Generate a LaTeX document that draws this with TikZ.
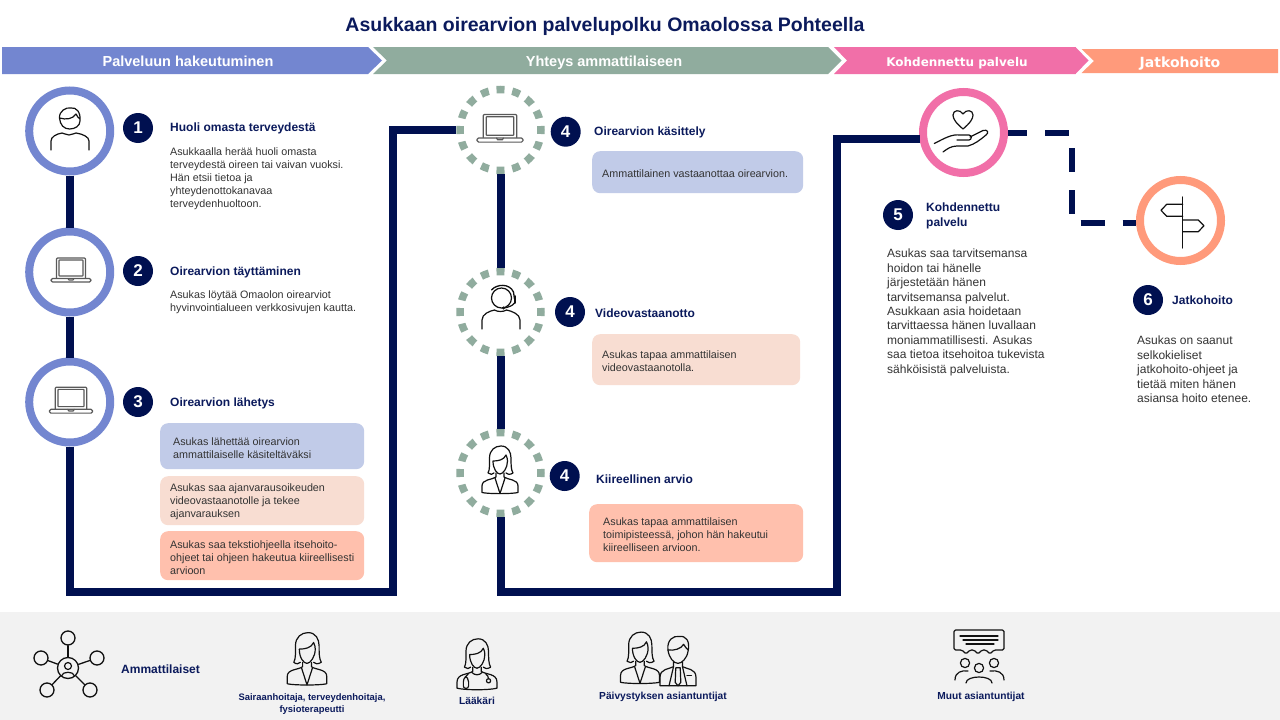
\documentclass[tikz,border=0pt]{standalone}
\usepackage{fontspec}
\setmainfont{Liberation Sans}
\newfontfamily\hdrfont{DejaVu Sans}
\definecolor{navy}{HTML}{001050}
\definecolor{titlenavy}{HTML}{0B1A5C}
\definecolor{hblue}{HTML}{7386D0}
\definecolor{hgreen}{HTML}{90AC9E}
\definecolor{hpink}{HTML}{F16FA8}
\definecolor{horange}{HTML}{FF9A7B}
\definecolor{bblue}{HTML}{C1CBE8}
\definecolor{bpeach}{HTML}{F8DDD2}
\definecolor{bsalmon}{HTML}{FFC0AD}
\definecolor{band}{HTML}{F2F2F2}
\definecolor{txt}{HTML}{333333}
\definecolor{iconink}{HTML}{111111}
\tikzset{
  ring/.style={circle,draw=#1,line width=8pt,fill=white,minimum size=81pt,inner sep=0pt},
  dashring/.style={circle,draw=hgreen,line width=7.5pt,fill=white,minimum size=81pt,inner sep=0pt,
     dash pattern=on 8pt off 7.9pt,dash phase=4pt},
  numdot/.style={circle,fill=navy,text=white,minimum size=30pt,inner sep=0pt,font=\fontsize{17}{17}\selectfont\bfseries},
  flow/.style={draw=navy,line width=8pt,line join=miter},
  flowdash/.style={draw=navy,line width=6pt,dash pattern=on 24pt off 18pt,dash phase=5pt},
  headlabel/.style={anchor=west,text=titlenavy,inner sep=0pt,align=left,font=\fontsize{12}{15.5}\selectfont\bfseries},
  bodytext/.style={anchor=north west,text=txt,inner sep=0pt,align=left,font=\fontsize{10.75}{13}\selectfont},
  bodylarge/.style={anchor=north west,text=txt,inner sep=0pt,align=left,font=\fontsize{12}{14.4}\selectfont},
  stepbox/.style={anchor=north west,rounded corners=8pt,fill=#1,text=txt,inner ysep=0pt,inner xsep=0pt,
     align=left,font=\fontsize{10.75}{13}\selectfont},
  hdrlabel/.style={anchor=base,text=white,inner sep=0pt,font=\fontsize{14.5}{14.5}\selectfont\bfseries},
  botlabel/.style={text=titlenavy,inner sep=0pt,align=center,font=\fontsize{9.4}{11.5}\selectfont\bfseries},
  botlabelwide/.style={text=titlenavy,inner sep=0pt,align=center,font=\fontsize{10.2}{12}\selectfont\bfseries},
  inkline/.style={draw=iconink,line width=1.2pt,line join=round,line cap=round},
  grayline/.style={draw=black!65,line width=1.2pt,line join=round,line cap=round},
}
\newcommand{\boxtext}[3]{\hspace*{#1}\raisebox{-1.5pt}[\height][\depth]{\parbox{#2}{\raggedright #3}}}
\newcommand{\iconLaptop}[3]{%
  \begin{scope}[shift={(#1,#2)},scale=#3]
    \draw[grayline,rounded corners=1pt] (-14.5,10) -- (-14.5,-10) -- (14.5,-10) -- (14.5,10);
    \draw[grayline,rounded corners=.5pt] (-12,8) rectangle (12,-8);
    \draw[grayline,rounded corners=1.5pt] (-20,10.5) rectangle (20,14);
    \draw[grayline] (-3,10.5) -- (-2,12) -- (2,12) -- (3,10.5);
  \end{scope}}
\newcommand{\iconFemaleTop}{%
    \draw[inkline] (-6,3) .. controls (-7,4.5) and (-10,5) .. (-12,3)
      .. controls (-10,0) and (-10.5,-8) .. (-10.5,-12)
      .. controls (-10.5,-20) and (-5,-24) .. (1,-24)
      .. controls (8,-24) and (11,-18) .. (11,-12)
      .. controls (11,-6) and (11,0) .. (13,3)
      .. controls (10,5) and (7,4.5) .. (6,3);
    \draw[inkline] (-7,-9) .. controls (-2,-9) and (4,-10) .. (6,-15) .. controls (7,-13) and (7.5,-11) .. (7.5,-9)
      .. controls (7.5,-2) and (3,4) .. (0,4) .. controls (-3,4) and (-7,-1) .. (-7,-9);}
\newcommand{\iconFemale}[3]{%
  \begin{scope}[shift={(#1,#2)},scale=#3]
    \iconFemaleTop
    \draw[inkline] (-4,3) -- (-4,7) .. controls (-8,10) and (-18,9) .. (-18,16) -- (-18,22.5)
       .. controls (-12,24) and (12,24) .. (18,22.5) -- (18,16) .. controls (18,9) and (8,10) .. (4,7) -- (4,3);
    \draw[inkline] (-5,8) -- (0,23.5) -- (5,8);
  \end{scope}}
\newcommand{\iconDoctor}[3]{%
  \begin{scope}[shift={(#1,#2)},scale=#3]
    \iconFemaleTop
    \draw[inkline] (-4,3) -- (-4,7) .. controls (-8,10) and (-19,9) .. (-19,17) -- (-19,23)
       .. controls (-12,25) and (12,25) .. (19,23) -- (19,17) .. controls (19,9) and (8,10) .. (4,7) -- (4,3);
    \draw[inkline] (-5,8) .. controls (-2,11) and (2,11) .. (5,8);
    \draw[inkline] (-8,9) .. controls (-10,12) and (-13,13) .. (-13,17) -- (-13,21) .. controls (-13,24) and (-8,24) .. (-8,21) -- (-8,17) .. controls (-8,14) and (-10,12) .. (-11,12);
    \draw[inkline] (8,9) .. controls (10,11) and (11,12) .. (11,14);
    \draw[inkline] (11,16) circle[radius=2];
  \end{scope}}
\newcommand{\iconMale}[3]{%
  \begin{scope}[shift={(#1,#2)},scale=#3]
    \draw[inkline] (-9,-9) .. controls (-10,-18) and (-4,-22) .. (1,-21) .. controls (7,-22) and (11,-17) .. (9,-8)
       .. controls (8,-1) and (3,3) .. (0,3) .. controls (-4,3) and (-8,-2) .. (-9,-9);
    \draw[inkline] (-9,-9) .. controls (-4,-8) and (3,-10) .. (5,-14) .. controls (6,-12) and (8,-10) .. (9,-9);
    \draw[inkline] (-4,2) -- (-4,6) .. controls (-8,8) and (-16,8) .. (-16,15) -- (-16,23) -- (16,23) -- (16,15) .. controls (16,8) and (8,8) .. (4,6) -- (4,2);
    \draw[inkline] (-4,6) -- (-8,23) (4,6) -- (8,23);
    \draw[inkline] (-2,7) -- (2,7) -- (2.5,20) -- (0,23) -- (-2.5,20) -- cycle;
    \draw[inkline] (8,14) -- (12,14);
  \end{scope}}
\begin{document}
\begin{tikzpicture}[x=1pt,y=-1pt]
\useasboundingbox (0,0) rectangle (1280,720);
\fill[white] (0,0) rectangle (1280,720);
\fill[band] (0,612) rectangle (1280,720);

% title
\node[text=titlenavy,inner sep=0pt,font=\fontsize{19.5}{20}\selectfont\bfseries] (title) at (605,26.5) {Asukkaan oirearvion palvelupolku Omaolossa Pohteella};

% header chevrons
\fill[hblue] (2,47) -- (368,47) -- (382,60.5) -- (368,74) -- (2,74) -- cycle;
\fill[hgreen] (373,47) -- (828,47) -- (841.5,60.5) -- (828,74) -- (373,74) -- (387,60.5) -- cycle;
\fill[hpink] (834,47) -- (1075.5,47) -- (1088.5,60.5) -- (1075.5,74) -- (834,74) -- (847,60.5) -- cycle;
\fill[horange] (1081.5,49) -- (1278,49) -- (1278,73) -- (1081.5,73) -- (1094,61) -- cycle;
\node[hdrlabel] (hd1) at (188,66) {Palveluun hakeutuminen};
\node[hdrlabel] (hd2) at (604,66) {Yhteys ammattilaiseen};
\node[hdrlabel,font=\hdrfont\fontsize{12}{12}\selectfont\bfseries] (hd3) at (957,66) {Kohdennettu palvelu};
\node[hdrlabel,font=\hdrfont\fontsize{14}{14}\selectfont\bfseries] (hd4) at (1180,67) {Jatkohoito};

% rings
\node[ring=hblue] (c1) at (69.7,131) {};
\node[ring=hblue] (c2) at (69.7,272) {};
\node[ring=hblue] (c3) at (69.7,402) {};
\node[dashring] (d1) at (500.5,130) {};
\node[dashring] (d2) at (500.5,312) {};
\node[dashring] (d3) at (500.5,473) {};
\node[ring=hpink] (p) at (963.5,132.5) {};
\node[ring=horange] (o) at (1180.5,220.5) {};
\coordinate (k1) at (393,592);
\coordinate (k2) at (837,592);
\coordinate (k3) at (1071.5,177);

% connectors
\draw[flow] (c1) -- (c2);
\draw[flow] (c2) -- (c3);
\draw[flow] (c3.south) |- (k1) |- (d1.west);
\draw[flow] (d1.south) -- (d2.north);
\draw[flow] (d2.south) -- (d3.north);
\draw[flow] (d3.south) |- (k2) |- (p.189);
\draw[flowdash] (p.east) -| (k3) |- (o.183);

% number dots
\node[numdot] (n1) at (138,128) {1};
\node[numdot] (n2) at (138,271) {2};
\node[numdot] (n3) at (138,402) {3};
\node[numdot] (n4a) at (565.7,131.7) {4};
\node[numdot] (n4b) at (570,312) {4};
\node[numdot] (n4c) at (564.7,476) {4};
\node[numdot] (n5) at (898,215) {5};
\node[numdot] (n6) at (1148,300) {6};

% headings and texts
\node[headlabel] (h1) at (170,128.7) {Huoli omasta terveydestä};
\node[bodytext] (t1) at (170,148) {Asukkaalla herää huoli omasta\\terveydestä oireen tai vaivan vuoksi.\\Hän etsii tietoa ja\\yhteydenottokanavaa\\terveydenhuoltoon.};
\node[headlabel] (h2) at (170,272.7) {Oirearvion täyttäminen};
\node[bodytext] (t2) at (170,291) {Asukas löytää Omaolon oirearviot\\hyvinvointialueen verkkosivujen kautta.};
\node[headlabel] (h3) at (170,403.7) {Oirearvion lähetys};
\node[headlabel] (h4a) at (594,132.7) {Oirearvion käsittely};
\node[headlabel] (h4b) at (595,313.7) {Videovastaanotto};
\node[headlabel] (h4c) at (596,479.7) {Kiireellinen arvio};
\node[headlabel] (h5) at (926,215.7) {Kohdennettu\\palvelu};
\node[headlabel] (h6) at (1172,300.7) {Jatkohoito};
\node[bodylarge] (t5) at (887,249) {Asukas saa tarvitsemansa\\hoidon tai hänelle\\järjestetään hänen\\tarvitsemansa palvelut.\\Asukkaan asia hoidetaan\\tarvittaessa hänen luvallaan\\moniammatillisesti. Asukas\\saa tietoa itsehoitoa tukevista\\sähköisistä palveluista.};
\node[bodylarge] (t6) at (1137,336) {Asukas on saanut\\selkokieliset\\jatkohoito-ohjeet ja\\tietää miten hänen\\asiansa hoito etenee.};

% boxes
\node[stepbox=bblue,minimum width=204pt,minimum height=46pt] (b3a) at (160,423)
  {\boxtext{13pt}{191pt}{Asukas lähettää oirearvion\\ammattilaiselle käsiteltäväksi}};
\node[stepbox=bpeach,minimum width=204pt,minimum height=49pt] (b3b) at (160,476)
  {\boxtext{10pt}{194pt}{Asukas saa ajanvarausoikeuden\\videovastaanotolle ja tekee\\ajanvarauksen}};
\node[stepbox=bsalmon,minimum width=204pt,minimum height=49pt] (b3c) at (160,531)
  {\boxtext{10pt}{194pt}{Asukas saa tekstiohjeella itsehoito-\\ohjeet tai ohjeen hakeutua kiireellisesti\\arvioon}};
\node[stepbox=bblue,minimum width=211pt,minimum height=42pt] (b4a) at (592,151)
  {\boxtext{10pt}{201pt}{Ammattilainen vastaanottaa oirearvion.}};
\node[stepbox=bpeach,minimum width=208pt,minimum height=51pt] (b4b) at (592,334)
  {\boxtext{10pt}{198pt}{Asukas tapaa ammattilaisen\\videovastaanotolla.}};
\node[stepbox=bsalmon,minimum width=214pt,minimum height=58pt] (b4c) at (589,504)
  {\boxtext{14pt}{200pt}{Asukas tapaa ammattilaisen\\toimipisteessä, johon hän hakeutui\\kiireelliseen arvioon.}};

% icons in rings
\begin{scope}[shift={(70,131)}]
  \draw[inkline] (-10.5,-13) .. controls (-11,-20) and (-4,-24) .. (1,-23) .. controls (6,-24) and (11,-19) .. (10,-10)
     .. controls (10,-5) and (5,-2) .. (-0.5,-2) .. controls (-6,-2) and (-10,-6) .. (-10.5,-13)
     .. controls (-4,-11) and (3,-12) .. (6,-17) .. controls (7,-14) and (9,-13) .. (10,-12);
  \draw[inkline] (-19,19) -- (-19,10) .. controls (-19,6) and (-14,3) .. (-8,2) .. controls (-6,2) and (-4,4) .. (-1,4)
     .. controls (2,4) and (4,2) .. (6,2) .. controls (13,3) and (19,6) .. (19,10) -- (19,19);
\end{scope}
\iconLaptop{71}{268}{1}
\iconLaptop{71}{398}{1.08}
\iconLaptop{500}{126}{1.15}
\begin{scope}[shift={(500.5,312)}]
  \draw[inkline] (1,-14) circle[radius=10];
  \draw[inkline] (-18.5,17) -- (-18.5,8) .. controls (-18.5,2) and (-11,-1) .. (-6,-2) .. controls (-3,0) and (3,0) .. (6,-2)
     .. controls (11,-1) and (19.5,2) .. (19.5,8) -- (19.5,17);
  \draw[inkline,line width=1.3pt] (-9,-22) .. controls (-4,-28) and (9,-29) .. (13,-20) -- (14,-13);
  \draw[inkline,line width=2pt] (14,-16) -- (14,-9);
  \draw[inkline] (14,-9) .. controls (12,-6) and (8,-5) .. (4,-4);
  \fill[iconink] (3,-4) circle[radius=1.6];
\end{scope}
\iconFemale{500}{470}{1}
\draw[inkline] (963,129) .. controls (956,123) and (953,119) .. (953,115) .. controls (953,110) and (960,109) .. (963,114)
     .. controls (966,109) and (973,110) .. (973,115) .. controls (973,119) and (970,123) .. (963,129);
\draw[inkline] (934.3,143.5) .. controls (945,138) and (952,134) .. (960,135) -- (969,135) .. controls (972,135) and (972,140) .. (969,140) -- (957,140);
\draw[inkline] (970,137) -- (983,130.5) .. controls (988,129) and (989,133) .. (986,135) .. controls (980,140) and (975,144) .. (968,146)
     -- (957,146) .. controls (951,146) and (947,149) .. (943,152);
\draw[inkline] (1182.7,197) -- (1182.7,248);
\draw[inkline] (1182.7,204.3) -- (1166.7,204.3) -- (1161,210.3) -- (1166.7,216.3) -- (1182.7,216.3);
\draw[inkline] (1182.7,220) -- (1198.3,220) -- (1204,225.7) -- (1198.3,231.7) -- (1182.7,231.7);

% bottom band
\begin{scope}[every node/.style={circle,draw=iconink,line width=1.3pt,inner sep=0pt,minimum size=14pt}]
  \node[minimum size=21pt] (hub) at (68,668) {};
  \node (s1) at (68,638) {};
  \node (s2) at (41,658) {};
  \node (s3) at (97,658) {};
  \node (s4) at (47,690) {};
  \node (s5) at (90,690) {};
\end{scope}
\foreach \s in {s1,s2,s3,s4,s5} \draw[inkline,line width=1.3pt] (\s) -- (hub);
\draw[inkline] (68,666) circle[radius=3.5];
\draw[inkline] (61.5,676) .. controls (62,671) and (74,671) .. (74.5,676);

\node[headlabel] (lam) at (121,669) {Ammattilaiset};
\iconFemale{307}{659}{1.1}
\node[botlabel] (lb1) at (312,704) {Sairaanhoitaja, terveydenhoitaja,\\fysioterapeutti};
\iconDoctor{477}{664}{1.05}
\node[botlabelwide] (lb2) at (477,700.5) {Lääkäri};
\iconFemale{640}{658}{1.08}
\iconMale{678}{660}{1.12}
\node[botlabelwide] (lb3) at (663,697) {Päivystyksen asiantuntijat};
% speech bubble and group
\draw[inkline,rounded corners=1.5pt] (954,630) -- (1004,630) -- (1004,650) -- (994,650) -- (990,654) -- (986,650) -- (982,650) -- (978,654) -- (974,650) -- (970,650) -- (966,654) -- (962,650) -- (954,650) -- cycle;
\draw[inkline] (960,636) -- (998,636) (963,640) -- (998,640) (966,644) -- (994,644);
\draw[inkline] (965,663) circle[radius=4.6];
\draw[inkline] (994,663) circle[radius=4.6];
\draw[inkline] (979,668) circle[radius=4.6];
\draw[inkline] (955,680) .. controls (955,672) and (962,670) .. (968,671);
\draw[inkline] (1004,680) .. controls (1004,672) and (997,670) .. (990,671);
\draw[inkline] (966,683) .. controls (966,675) and (992,675) .. (992,683);
\node[botlabelwide] (lb4) at (981,697) {Muut asiantuntijat};
\end{tikzpicture}
\end{document}
